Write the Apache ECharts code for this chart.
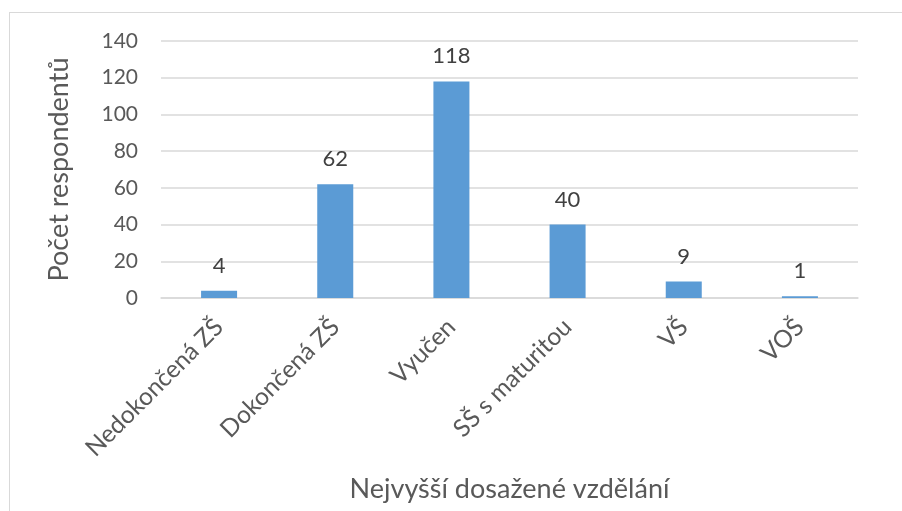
<!DOCTYPE html>
<html><head><meta charset="utf-8">
<script src="https://cdn.jsdelivr.net/npm/echarts@6/dist/echarts.min.js"></script>
<style>
html,body{margin:0;padding:0;background:#fff;}
#frame{position:absolute;left:9px;top:12px;width:1000px;height:1000px;border-left:1px solid #d9d9d9;border-top:1px solid #d9d9d9;}
#c{position:absolute;left:0;top:0;width:902px;height:511px;}
</style></head>
<body>
<div id="frame"></div>
<div id="c"></div>
<script>
const categories = ['Nedokončená ZŠ', 'Dokončená ZŠ', 'Vyučen', 'SŠ s maturitou', 'VŠ', 'VOŠ'];
const values = [4, 62, 118, 40, 9, 1];
const yTicks = {min: 0, max: 140, interval: 20};
const xTitle = 'Nejvyšší dosažené vzdělání';
const yTitle = 'Počet respondentů';

const font = 'Lato, Open Sans, sans-serif';
const chart = echarts.init(document.getElementById('c'), null, {renderer: 'canvas'});
chart.setOption({
  animation: false,
  grid: {left: 161, right: 44, top: 41, bottom: 213, containLabel: false, outerBoundsMode: 'none'},
  xAxis: {
    type: 'category', data: categories,
    axisLine: {lineStyle: {color: '#d9d9d9', width: 1.5}},
    axisTick: {show: false},
    axisLabel: {rotate: 45, interval: 0, margin: 25, color: '#595959', fontSize: 24.5, fontFamily: font},
    name: xTitle, nameLocation: 'middle', nameGap: 178,
    nameTextStyle: {color: '#595959', fontSize: 27, fontFamily: font}
  },
  yAxis: {
    type: 'value', min: yTicks.min, max: yTicks.max, interval: yTicks.interval,
    axisLine: {show: false}, axisTick: {show: false},
    splitLine: {lineStyle: {color: '#d9d9d9', width: 1.5}},
    axisLabel: {margin: 23, color: '#595959', fontSize: 21, fontFamily: font},
    name: yTitle, nameLocation: 'middle', nameGap: 88, nameRotate: 90,
    nameTextStyle: {color: '#595959', fontSize: 27, fontFamily: font}
  },
  series: [{
    type: 'bar', data: values, barWidth: '31%',
    itemStyle: {color: '#5b9bd5'},
    label: {show: true, position: 'top', distance: 14, color: '#404040', fontSize: 22, fontFamily: font}
  }]
});
</script>
</body></html>
